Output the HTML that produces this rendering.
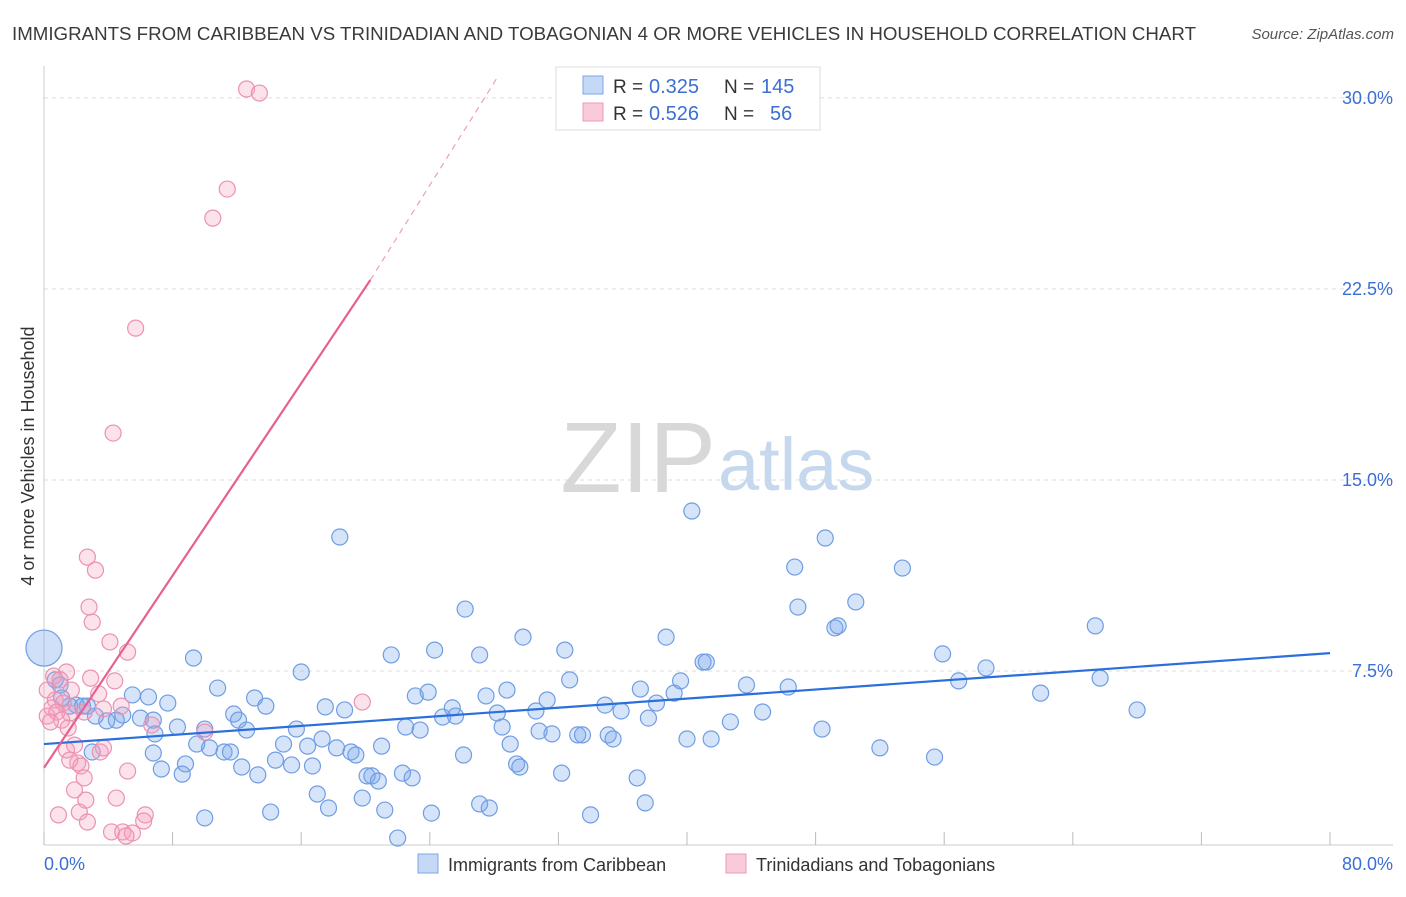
<!DOCTYPE html>
<html><head><meta charset="utf-8"><style>
body{margin:0;background:#fff;font-family:"Liberation Sans",sans-serif;}
svg text{font-family:"Liberation Sans",sans-serif;}
</style></head><body>
<svg id="chart" width="1406" height="892" xmlns="http://www.w3.org/2000/svg">
<text x="12" y="40" font-size="18" textLength="1184" lengthAdjust="spacingAndGlyphs" fill="#3a3a3a">IMMIGRANTS FROM CARIBBEAN VS TRINIDADIAN AND TOBAGONIAN 4 OR MORE VEHICLES IN HOUSEHOLD CORRELATION CHART</text>
<text x="1394" y="39" font-size="15" fill="#555" font-style="italic" text-anchor="end">Source: ZipAtlas.com</text>
<g id="grid"></g>
<text x="716" y="492" font-size="100" fill="#d8d8d8" text-anchor="end" font-family="Liberation Serif">ZIP</text>
<text x="718" y="490" font-size="74" fill="#c6d8ee">atlas</text>
<g id="pts"></g>
<g id="lines"></g>
<text transform="translate(34,456) rotate(-90)" font-size="18" fill="#333" text-anchor="middle">4 or more Vehicles in Household</text>
<text x="44" y="870" font-size="18" fill="#3b6fd4">0.0%</text>
<text x="1393" y="870" font-size="18" fill="#3b6fd4" text-anchor="end">80.0%</text>
<g>
<rect x="556" y="67" width="264" height="63" fill="#fff" stroke="#ddd"/>
<rect x="583" y="76" width="20" height="18" fill="#c5d9f7" stroke="#7ea6e6"/>
<rect x="583" y="103" width="20" height="18" fill="#f9cad9" stroke="#ee9ab6"/>
<text x="613" y="93" font-size="19" fill="#333">R =</text>
<text x="649" y="93" font-size="20" fill="#3b6fd4">0.325</text>
<text x="724" y="93" font-size="19" fill="#333">N =</text>
<text x="761" y="93" font-size="20" fill="#3b6fd4">145</text>
<text x="613" y="120" font-size="19" fill="#333">R =</text>
<text x="649" y="120" font-size="20" fill="#3b6fd4">0.526</text>
<text x="724" y="120" font-size="19" fill="#333">N =</text>
<text x="770" y="120" font-size="20" fill="#3b6fd4">56</text>
</g>
<g>
<rect x="418" y="854" width="20" height="19" fill="#c5d9f7" stroke="#7ea6e6"/>
<text x="448" y="871" font-size="18" fill="#333">Immigrants from Caribbean</text>
<rect x="726" y="854" width="20" height="19" fill="#f9cad9" stroke="#ee9ab6"/>
<text x="756" y="871" font-size="18" fill="#333">Trinidadians and Tobagonians</text>
</g>
</svg>
<script>
const yTicks=[7.5,15.0,22.5,30.0];
const xTicks=[0,8,16,24,32,40,48,56,64,72,80];
const blueX=[18.4,40.3,48.6,46.7,53.4,26.2,46.9,50.5,49.2,49.4,65.4,29.8,38.7,32.4,24.3,21.6,27.1,41.0,41.2,55.9,9.3,16.0,58.6,56.9,65.7,32.7,39.6,43.7,46.3,37.1,10.8,23.9,23.1,28.8,27.5,62.0,31.3,34.9,38.1,39.2,5.5,6.5,7.7,13.1,13.8,17.5,18.7,25.4,28.2,30.6,35.9,68.0,44.7,37.6,42.7,24.8,25.6,11.8,12.1,6.8,4.5,3.9,3.2,2.7,1.1,1.6,2.0,2.4,4.9,6.0,1.0,0.7,10.0,15.7,8.3,12.6,22.5,23.4,28.5,48.4,30.8,31.6,33.2,35.1,33.5,35.4,6.9,9.5,10.3,11.2,11.6,14.9,16.4,17.3,18.2,19.1,19.4,21.0,29.0,40.0,41.5,52.0,6.8,3.0,7.3,8.8,8.6,12.3,13.3,14.4,15.4,16.7,20.1,20.4,20.8,22.3,22.9,26.1,29.4,29.6,32.2,36.9,55.4,17.0,17.7,19.8,21.2,24.1,27.1,27.7,37.4,14.1,34.0,10.0,22.0];
const blueY=[12.76,13.78,12.72,11.58,11.54,9.93,10.01,10.21,9.19,9.27,9.27,8.83,8.83,8.32,8.32,8.13,8.13,7.85,7.85,8.17,8.01,7.46,7.62,7.11,7.22,7.15,7.11,6.95,6.87,6.79,6.83,6.67,6.52,6.75,6.52,6.63,6.36,6.16,6.24,6.63,6.56,6.48,6.24,6.44,6.12,6.09,5.97,6.05,5.85,5.93,5.93,5.97,5.89,5.65,5.50,5.69,5.73,5.81,5.57,5.57,5.57,5.54,5.73,6.12,6.44,6.12,6.16,6.12,5.77,5.65,6.95,7.15,5.22,5.22,5.30,5.18,5.30,5.18,5.30,5.22,5.14,5.03,4.99,4.99,4.99,4.83,5.03,4.63,4.48,4.32,4.32,4.63,4.55,4.83,4.48,4.32,4.20,4.55,4.63,4.83,4.83,4.48,4.28,4.32,3.65,3.85,3.45,3.73,3.42,4.00,3.81,3.77,3.38,3.38,3.18,3.49,3.30,4.20,3.85,3.73,3.49,3.30,4.12,2.67,2.12,2.51,2.04,1.92,2.28,2.12,2.32,1.96,1.85,1.73,0.94];
const bigX=[0.0], bigY=[8.40];
const pinkX=[12.6,13.4,11.4,10.5,5.7,4.3,2.7,3.2,2.8,3.0,4.1,5.2,1.4,0.6,1.0,2.9,4.4,1.7,3.4,0.2,0.7,1.2,0.5,0.2,0.8,2.5,1.6,1.1,0.4,1.5,1.9,1.4,3.5,3.7,2.1,2.3,1.6,2.5,5.2,1.9,2.6,4.5,2.2,0.9,6.3,6.2,2.7,4.2,4.9,5.5,5.1,19.8,10.0,6.7,3.7,4.8];
const pinkY=[30.35,30.19,26.42,25.28,20.96,16.84,11.97,11.46,10.01,9.42,8.64,8.24,7.46,7.30,7.15,7.22,7.11,6.75,6.60,6.75,6.36,6.24,6.05,5.73,5.89,5.89,5.85,5.57,5.50,5.26,4.59,4.40,4.32,4.48,3.89,3.77,4.00,3.30,3.57,2.83,2.43,2.51,1.96,1.85,1.85,1.61,1.57,1.18,1.18,1.14,1.02,6.28,5.10,5.38,6.01,6.12];
const blueTrend=[4.63,8.2];
const pinkTrend=[3.7,22.85];
const pinkTrendEnd=[20.3,30.8];
const NS='http://www.w3.org/2000/svg';
const sx=v=>44+v*16.075, sy=v=>862-v*25.47;
function mk(tag,attrs,parent){const e=document.createElementNS(NS,tag);for(const k in attrs)e.setAttribute(k,attrs[k]);parent.appendChild(e);return e;}
const grid=document.getElementById('grid');
yTicks.forEach(t=>{
 const l=mk('line',{x1:44,x2:1393,y1:sy(t),y2:sy(t),stroke:'#ddd','stroke-dasharray':'4,4'},grid);
 
 
 const tx=mk('text',{x:1393,y:sy(t)+6,'font-size':18,fill:'#3b6fd4','text-anchor':'end'},grid);
 tx.textContent=t.toFixed(1)+'%';
 
 
});
const ax=mk('line',{x1:44,x2:44,y1:66,y2:845,stroke:'#ccc'},grid);


const bx=mk('line',{x1:44,x2:1393,y1:845,y2:845,stroke:'#ccc'},grid);


xTicks.forEach(t=>{
 const l=mk('line',{x1:sx(t),x2:sx(t),y1:832,y2:845,stroke:'#bbb'},grid);
 
 
});
const pts=document.getElementById('pts');
blueX.forEach((x,i)=>{
 const c=mk('circle',{cx:sx(x),cy:sy(blueY[i]),r:8,fill:'rgba(120,165,235,0.3)',stroke:'#6f9de3','stroke-width':1.2},pts);
 
 
});
bigX.forEach((x,i)=>{
 const c=mk('circle',{cx:sx(x),cy:sy(bigY[i]),r:18,fill:'rgba(120,165,235,0.35)',stroke:'#6f9de3','stroke-width':1.2},pts);
 
 
});
pinkX.forEach((x,i)=>{
 const c=mk('circle',{cx:sx(x),cy:sy(pinkY[i]),r:8,fill:'rgba(245,160,190,0.3)',stroke:'#eb92b2','stroke-width':1.2},pts);
 
 
});
const lines=document.getElementById('lines');
const b=mk('line',{x1:sx(0),y1:sy(blueTrend[0]),x2:sx(80),y2:sy(blueTrend[1]),stroke:'#2a6fdb','stroke-width':2.2},lines);


const p=mk('line',{x1:sx(0),y1:sy(pinkTrend[0]),x2:sx(pinkTrendEnd[0]),y2:sy(pinkTrend[1]),stroke:'#e8608e','stroke-width':2.2},lines);


const pd=mk('line',{x1:sx(pinkTrendEnd[0]),y1:sy(pinkTrend[1]),x2:sx(28.2),y2:sy(pinkTrendEnd[1]),stroke:'#eaa0bb','stroke-width':1.2,'stroke-dasharray':'6,5'},lines);


</script>
</body></html>
